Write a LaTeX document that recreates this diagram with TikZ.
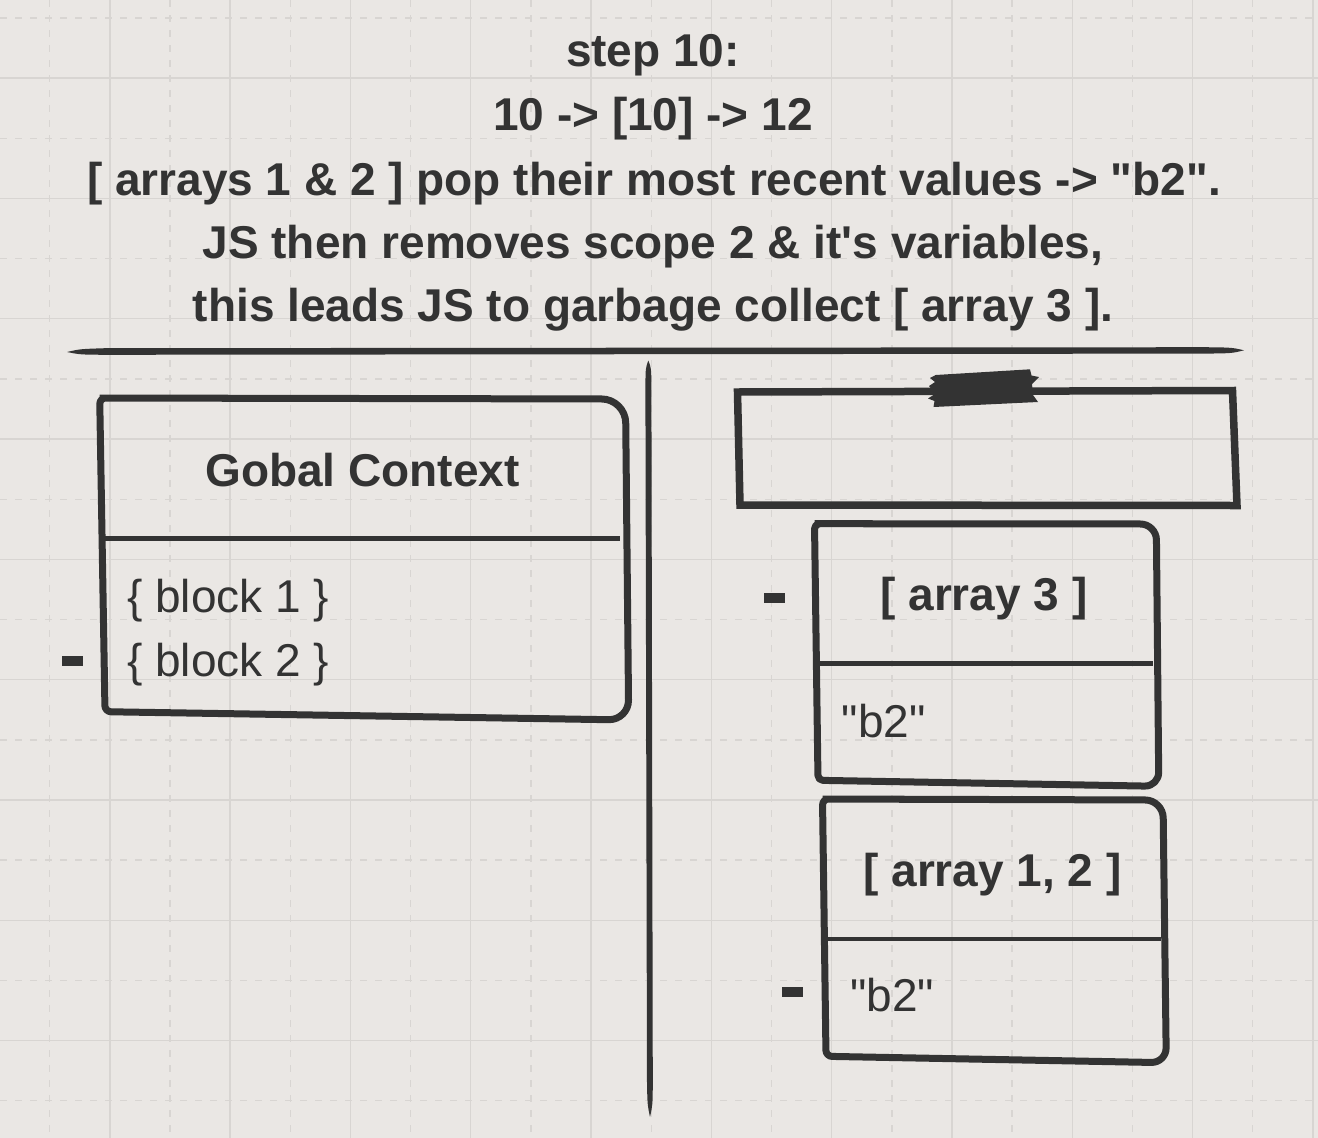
\documentclass[tikz,border=0pt]{standalone}
\usepackage{fontspec}
\newfontfamily\hv{Liberation Sans}
\definecolor{bg}{HTML}{EAE7E4}
\definecolor{gridc}{HTML}{D8D5D2}
\definecolor{ink}{HTML}{333333}
\tikzset{
  gridsolid/.style={draw=gridc, line width=1.4pt},
  griddash/.style={draw=gridc, line width=1.4pt, dash pattern=on 7pt off 8pt},
  boxline/.style={draw=ink, line width=7pt, line join=round},
  divline/.style={draw=ink, line width=4.5pt},
  titletext/.style={text=ink, font=\hv\bfseries\fontsize{46}{50}\selectfont, anchor=base, inner sep=0pt},
  headtext/.style={text=ink, font=\hv\bfseries\fontsize{46}{50}\selectfont, anchor=base, inner sep=0pt},
  itemtext/.style={text=ink, font=\hv\fontsize{46}{50}\selectfont, anchor=base west, inner sep=0pt},
  dashmark/.style={fill=ink, draw=none, minimum width=21pt, minimum height=10pt, inner sep=0pt}
}
\begin{document}
\begin{tikzpicture}[x=1pt, y=-1pt]
\useasboundingbox (0,0) rectangle (1318,1138);
\fill[bg] (0,0) rectangle (1318,1138);
% grid
\foreach \k in {0,...,21}{
  \pgfmathsetmacro{\gx}{49.7+60.15*\k}
  \ifodd\k
    \draw[gridsolid] (\gx,0) -- (\gx,1138);
  \else
    \draw[griddash] (\gx,0) -- (\gx,1138);
  \fi
}
\foreach \k in {0,...,18}{
  \pgfmathsetmacro{\gy}{18+60.15*\k}
  \ifodd\k
    \draw[gridsolid] (0,\gy) -- (1318,\gy);
  \else
    \draw[griddash] (0,\gy) -- (1318,\gy);
  \fi
}
% title
\node[titletext] (t1) at (653,66.7) {step 10:};
\node[titletext] (t2) at (653,130.7) {10 -> [10] -> 12};
\node[titletext] (t3) at (654,195) {[ arrays 1 \& 2 ] pop their most recent values -> "b2".};
\node[titletext] (t4) at (653,258.3) {JS then removes scope 2 \& it's variables,};
\node[titletext] (t5) at (653,321.7) {this leads JS to garbage collect [ array 3 ].};
% horizontal brush stroke
\fill[ink] (67,352) .. controls (80,349) .. (105,348.2) -- (1205,347.2) .. controls (1232,347.5) .. (1244,350.3)
  .. controls (1232,353.3) .. (1205,353.6) -- (105,354.8) .. controls (80,354.6) .. cycle;
% vertical brush stroke
\fill[ink] (648.3,360.5) .. controls (645.6,368) .. (645.4,385) -- (647,1085) .. controls (647.5,1105) .. (650,1117)
  .. controls (652.6,1105) .. (652.8,1085) -- (651.4,385) .. controls (651.2,368) .. cycle;
% Global context box
\draw[boxline] (99.7,398) [rounded corners=24pt] -- (625.5,399) [rounded corners=20pt] -- (628.7,720) [rounded corners=6pt] -- (105,711.7) -- (99.7,398) [rounded corners=6pt] -- (300,398.4);
\draw[divline] (104,538.3) -- (620,538.3);
\node[headtext] (gc) at (362.5,486) {Gobal Context};
\node[itemtext] (b1) at (127,612.3) {\{ block 1 \}};
\node[itemtext] (b2) at (127,676) {\{ block 2 \}};
\node[dashmark] (d1) at (72.6,661) {};
% top right box
\draw[draw=ink, line width=7.5pt, line join=miter] (737.5,392) -- (1232.5,390.5) -- (1237,505.5) -- (740,505) -- cycle;
\fill[ink] (935.7,375) -- (1030,369.3) -- (1031.5,375.5) -- (1039,377) -- (1032,384) -- (1033,395) -- (1038,402) -- (933.5,407) -- (934.5,401) -- (928,398.5) -- (935,394) -- (929,386) -- (935,382) -- (930,378) -- cycle;
% array 3 box
\draw[boxline] (814.5,523.7) [rounded corners=16pt] -- (1156.3,524) [rounded corners=14pt] -- (1158.8,786.3) [rounded corners=5pt] -- (818,780.3) -- (814.5,523.7) -- (950,523.8);
\draw[divline] (819.3,663.5) -- (1153.3,663.5);
\node[headtext] (a3) at (984,610) {[ array 3 ]};
\node[itemtext] (a3v) at (841.7,737.7) {"b2"};
\node[dashmark] (d2) at (774.8,597.7) {};
% array 1,2 box
\draw[boxline] (822.5,799) [rounded corners=18pt] -- (1163,800) [rounded corners=15pt] -- (1166.3,1062.7) [rounded corners=6pt] -- (826,1056.3) -- (822.5,799) -- (950,799.4);
\draw[divline] (827.3,939.2) -- (1160.7,939.2);
\node[headtext] (a12) at (992.5,886) {[ array 1, 2 ]};
\node[itemtext] (a12v) at (850,1011.7) {"b2"};
\node[dashmark] (d3) at (792.5,992) {};
\end{tikzpicture}
\end{document}
